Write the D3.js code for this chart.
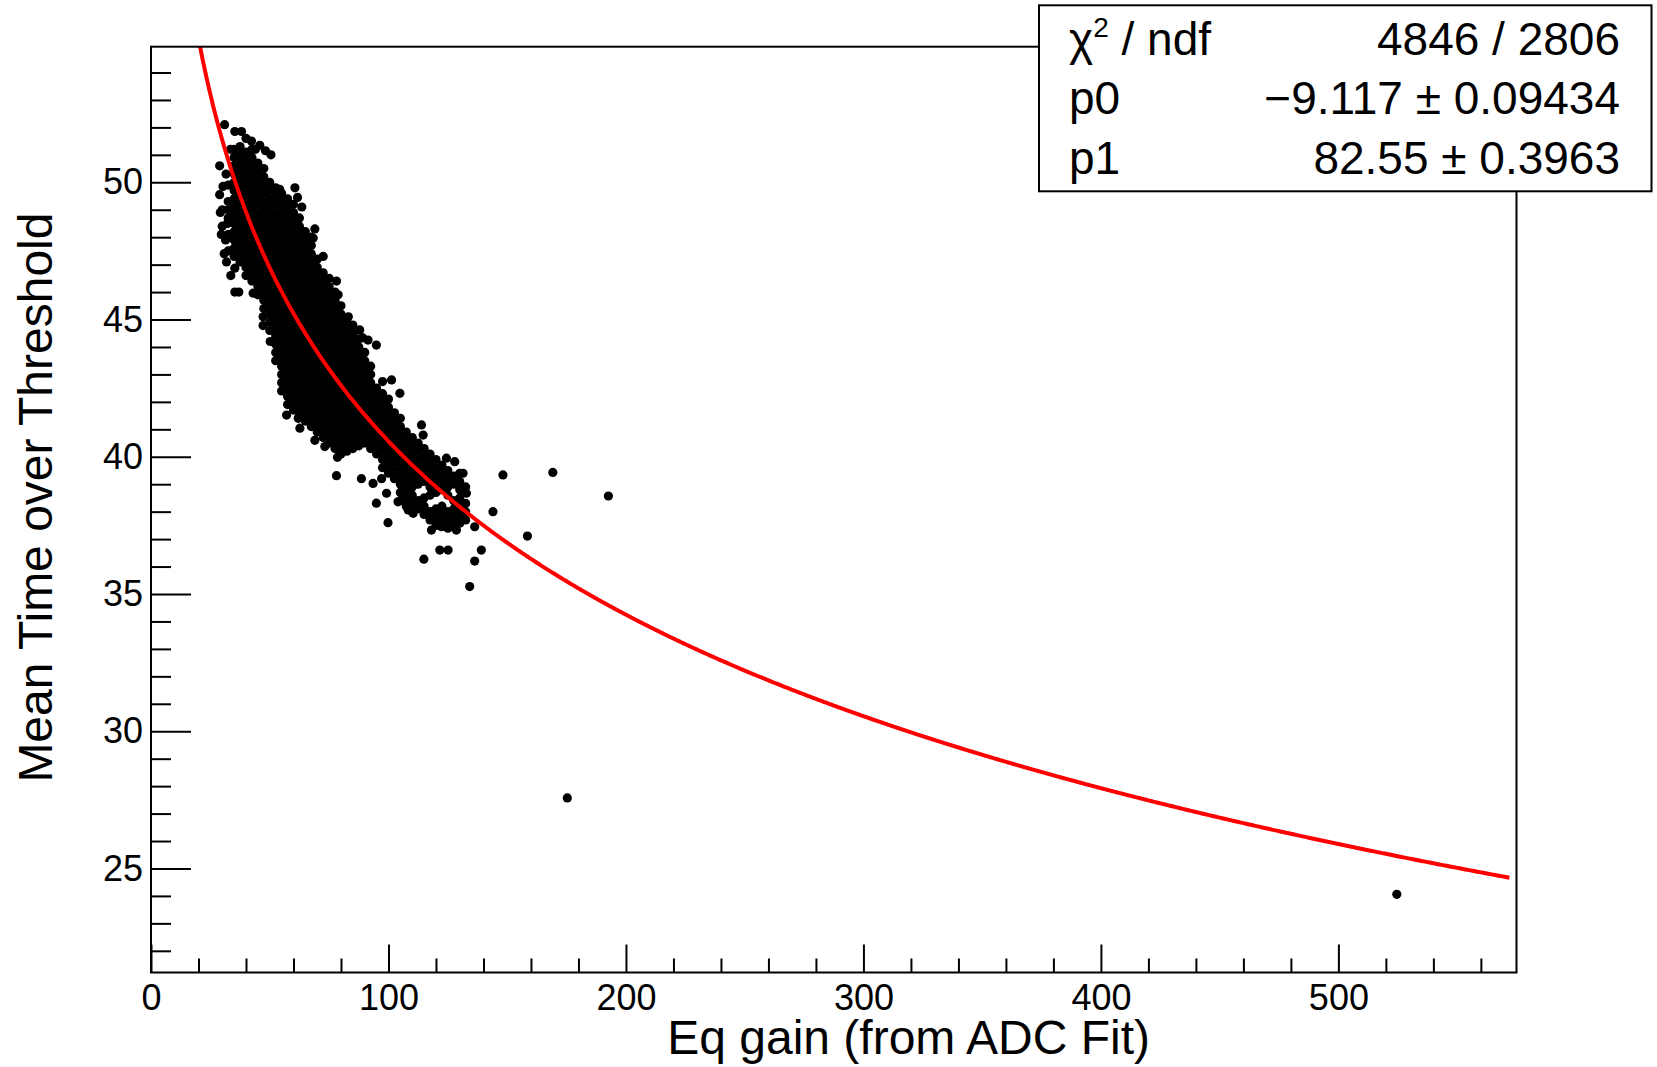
<!DOCTYPE html>
<html>
<head>
<meta charset="utf-8">
<script src="https://cdn.jsdelivr.net/npm/d3@7"></script>
<style>
  body { margin: 0; background: #fff; }
  svg text { font-family: "Liberation Sans", Arial, sans-serif; fill: #000; }
</style>
</head>
<body>
<svg id="chart" width="1657" height="1067"></svg>
<script>
// fit result (f = p0*ln(x) + p1) from the stats box
const fitP0 = -9.117, fitP1 = 82.55;
const fitRange = [20, 572];
const statNames = ["χ2 / ndf", "p0", "p1"];
const statValues = ["4846 / 2806", "\u22129.117 \u00b1 0.09434", "82.55 \u00b1 0.3963"];

// axis ticks
const xTicks = [0, 100, 200, 300, 400, 500];
const xMinor = d3.range(20, 575, 20);
const yTicks = [25, 30, 35, 40, 45, 50];
const yMinor = d3.range(22, 55, 1);

// dense part of the cloud, read column by column: [gain, [ToT values]]
const cloudColumns = [
  [30,   [48.4,49.0]],
  [32.5, [47.5,48.1,48.7,49.0,49.3,49.9]],
  [35,   [47.3,47.6,47.9,48.2,48.5,48.8,49.1,49.4,49.7,50.0,50.3,50.6,50.9,51.2]],
  [37.5, [47.1,47.4,47.7,48.0,48.3,48.6,48.9,49.2,49.5,49.8,50.1,50.4,50.7,51.0,51.3]],
  [40,   [46.6,46.9,47.2,47.5,47.8,48.1,48.4,48.7,49.0,49.3,49.6,49.9,50.2,50.5,50.8,51.1]],
  [42.5, [46.4,46.7,47.0,47.3,47.6,47.9,48.2,48.5,48.8,49.1,49.4,49.7,50.0,50.3,50.6,50.9,51.2]],
  [45,   [45.9,46.2,46.5,46.8,47.1,47.4,47.7,48.0,48.3,48.6,48.9,49.2,49.5,49.8,50.1,50.4,50.7]],
  [47.5, [45.4,45.7,46.0,46.3,46.6,46.9,47.2,47.5,47.8,48.1,48.4,48.7,49.0,49.3,49.6,49.9,50.2,50.5]],
  [50,   [44.6,44.9,45.2,45.5,45.8,46.1,46.4,46.7,47.0,47.3,47.6,47.9,48.2,48.5,48.8,49.1,49.4,49.7,50.0]],
  [52.5, [43.5,43.8,44.1,44.4,44.7,45.0,45.3,45.6,45.9,46.2,46.5,46.8,47.1,47.4,47.7,48.0,48.3,48.6,48.9,49.2,49.5,49.8]],
  [55,   [42.4,42.7,43.0,43.3,43.6,43.9,44.2,44.5,44.8,45.1,45.4,45.7,46.0,46.3,46.6,46.9,47.2,47.5,47.8,48.1,48.4,48.7,49.0,49.3,49.6]],
  [57.5, [41.9,42.2,42.5,42.8,43.1,43.4,43.7,44.0,44.3,44.6,44.9,45.2,45.5,45.8,46.1,46.4,46.7,47.0,47.3,47.6,47.9,48.2,48.5,48.8,49.1,49.4]],
  [60,   [41.7,42.0,42.3,42.6,42.9,43.2,43.5,43.8,44.1,44.4,44.7,45.0,45.3,45.6,45.9,46.2,46.5,46.8,47.1,47.4,47.7,48.0,48.3,48.6,48.9,49.2]],
  [62.5, [41.5,41.8,42.1,42.4,42.7,43.0,43.3,43.6,43.9,44.2,44.5,44.8,45.1,45.4,45.7,46.0,46.3,46.6,46.9,47.2,47.5,47.8,48.1,48.4,48.7]],
  [65,   [41.3,41.6,41.9,42.2,42.5,42.8,43.1,43.4,43.7,44.0,44.3,44.6,44.9,45.2,45.5,45.8,46.1,46.4,46.7,47.0,47.3,47.6,47.9,48.2]],
  [67.5, [41.1,41.4,41.7,42.0,42.3,42.6,42.9,43.2,43.5,43.8,44.1,44.4,44.7,45.0,45.3,45.6,45.9,46.2,46.5,46.8,47.1,47.4,47.7,48.0]],
  [70,   [40.9,41.2,41.5,41.8,42.1,42.4,42.7,43.0,43.3,43.6,43.9,44.2,44.5,44.8,45.1,45.4,45.7,46.0,46.3,46.6,46.9,47.2]],
  [72.5, [40.7,41.0,41.3,41.6,41.9,42.2,42.5,42.8,43.1,43.4,43.7,44.0,44.3,44.6,44.9,45.2,45.5,45.8,46.1,46.4,46.7]],
  [75,   [40.5,40.8,41.1,41.4,41.7,42.0,42.3,42.6,42.9,43.2,43.5,43.8,44.1,44.4,44.7,45.0,45.3,45.6,45.9,46.2,46.5]],
  [77.5, [40.3,40.6,40.9,41.2,41.5,41.8,42.1,42.4,42.7,43.0,43.3,43.6,43.9,44.2,44.5,44.8,45.1,45.4,45.7,46.0]],
  [80,   [40.1,40.4,40.7,41.0,41.3,41.6,41.9,42.2,42.5,42.8,43.1,43.4,43.7,44.0,44.3,44.6,44.9,45.2,45.5]],
  [82.5, [40.2,40.5,40.8,41.1,41.4,41.7,42.0,42.3,42.6,42.9,43.2,43.5,43.8,44.1,44.4,44.7,45.0]],
  [85,   [40.3,40.6,40.9,41.2,41.5,41.8,42.1,42.4,42.7,43.0,43.3,43.6,43.9,44.2,44.5,44.8]],
  [87.5, [40.4,40.7,41.0,41.3,41.6,41.9,42.2,42.5,42.8,43.1,43.4,43.7,44.0,44.3]],
  [90,   [40.5,40.8,41.1,41.4,41.7,42.0,42.3,42.6,42.9,43.2,43.5,43.8]],
  [92.5, [40.3,40.6,40.9,41.2,41.5,41.8,42.1,42.4,42.7,43.0,43.3]],
  [95,   [40.1,40.4,40.7,41.0,41.3,41.6,41.9,42.2,42.5]],
  [97.5, [39.6,39.9,40.2,40.5,40.8,41.1,41.4,41.7,42.0,42.3]],
  [100,  [39.4,39.7,40.0,40.3,40.6,40.9,41.2,41.5,41.8,42.1]],
  [102.5,[39.2,39.5,39.8,40.1,40.4,40.7,41.0,41.3,41.6]],
  [105,  [38.4,38.7,39.0,39.3,39.6,39.9,40.2,40.5,40.8,41.1,41.4]],
  [107.5,[38.2,38.5,38.8,39.1,39.4,39.7,40.0,40.3,40.6,40.9]],
  [110,  [38.0,38.3,38.6,38.9,39.2,39.5,39.8,40.1,40.4,40.7]],
  [112.5,[38.1,38.4,39.0,39.3,39.6,39.9,40.2,40.5]],
  [115,  [37.9,38.2,38.5,39.1,39.4,39.7,40.0,40.3]],
  [117.5,[37.7,38.0,38.6,38.9,39.2,39.5,39.8,40.1]],
  [120,  [37.5,37.8,38.1,38.7,39.0,39.3,39.6,39.9]],
  [122.5,[37.6,37.9,38.2,38.8,39.1,39.4,39.7]],
  [125,  [37.4,37.7,38.0,38.6,38.9,39.2,39.5]],
  [127.5,[37.5,37.8,38.1,38.4,39.0,39.3]],
  [130,  [37.6,37.9,38.2,38.5,38.8,39.1,39.4]],
  [132.5,[37.7,38.0,38.3,38.9]]
];

// loose points around the edge of the cloud and the outliers: [gain, ToT]
const strayPoints = [
  [31.0,52.1],[35.3,51.85],[38.1,51.85],[40.0,51.6],[42.3,51.5],[45.8,51.35],[44.0,51.2],[48.2,51.15],
  [50.5,51.0],[33.5,51.2],[28.9,50.6],[30.3,49.85],[28.9,49.55],[29.2,48.9],[29.6,48.1],[31.4,47.9],
  [30.8,47.4],[31.8,47.1],[33.6,46.6],[35.3,46.87],[35.3,46.0],[37.0,46.0],[43.0,45.96],[47.2,45.1],
  [47.2,44.78],[50.2,44.2],[31.6,50.3],[32.2,48.5],
  [54.2,49.74],[60.6,49.8],[61.7,49.45],[63.5,49.1],[69.0,48.3],[68.3,47.97],[72.5,47.3],[78.1,46.4],
  [78.8,45.9],[83.1,45.1],[87.9,44.62],[89.2,44.33],[91.4,44.25],[94.9,44.07],[97.5,42.74],[101.3,42.8],
  [104.8,42.31],[113.9,41.16],[114.6,40.79],[124.4,39.95],[127.9,39.82],[131.4,39.4],[132.8,38.67],
  [131.4,38.3],[130.0,37.58],[128.6,37.33],
  [57.1,41.52],[62.0,41.4],[62.7,41.04],[69.0,40.6],[73.2,40.37],[78.1,39.31],[78.5,39.98],[88.6,39.2],
  [93.5,39.03],[97.1,39.2],[94.9,38.31],[99.2,38.67],[104.0,38.36],[108.3,38.06],[110.4,37.94],[117.4,37.82],
  [99.8,37.6],[118.1,37.33],[122.3,37.45],[126.6,37.45],[136.3,37.45],[121.6,36.6],[125.1,36.6],
  [114.9,36.27],[139.1,36.6],[136.3,36.2],[134.2,35.27],
  [144.0,38.0],[148.2,39.34],[158.5,37.11],[169.2,39.43],[192.6,38.57],[175.3,27.57],[524.6,24.06]
];

const svg = d3.select("#chart");
const frame = { left: 151, right: 1516.5, top: 46.7, bottom: 972.5 };

const x = d3.scaleLinear().domain([0, 575]).range([frame.left, frame.right]);
const y = d3.scaleLinear().domain([21.21, 54.94]).range([frame.bottom, frame.top]);

svg.append("defs").append("clipPath").attr("id", "plot-clip")
  .append("rect").attr("x", frame.left).attr("y", frame.top)
  .attr("width", frame.right - frame.left).attr("height", frame.bottom - frame.top);

// points
const points = cloudColumns.flatMap(([gx, ys]) => ys.map(v => [gx, v])).concat(strayPoints);
svg.append("g").attr("clip-path", "url(#plot-clip)")
  .selectAll("circle").data(points).enter().append("circle")
  .attr("cx", d => x(d[0])).attr("cy", d => y(d[1])).attr("r", 4.6).attr("fill", "#000");

// fit curve
const fitLine = d3.line().x(d => x(d)).y(d => y(fitP0 * Math.log(d) + fitP1));
svg.append("path").attr("clip-path", "url(#plot-clip)")
  .datum(d3.range(fitRange[0], fitRange[1] + 0.5, 0.5))
  .attr("d", fitLine).attr("fill", "none").attr("stroke", "#ff0000").attr("stroke-width", 4);

// axes, ticks pointing inside the frame
const xAxis = svg.append("g").attr("transform", "translate(0," + frame.bottom + ")")
  .call(d3.axisBottom(x).tickValues(xTicks).tickSize(-28).tickPadding(12).tickFormat(d3.format("d")));
const xAxisMinor = svg.append("g").attr("transform", "translate(0," + frame.bottom + ")")
  .call(d3.axisBottom(x).tickValues(xMinor.filter(v => v % 100 !== 0)).tickSize(-14).tickFormat(""));
const yAxis = svg.append("g").attr("transform", "translate(" + frame.left + ",0)")
  .call(d3.axisLeft(y).tickValues(yTicks).tickSize(-40).tickPadding(8));
const yAxisMinor = svg.append("g").attr("transform", "translate(" + frame.left + ",0)")
  .call(d3.axisLeft(y).tickValues(yMinor.filter(v => v % 5 !== 0)).tickSize(-20).tickFormat(""));

[xAxis, xAxisMinor, yAxis, yAxisMinor].forEach(a => {
  a.select(".domain").remove();
  a.selectAll("line").attr("stroke", "#000").attr("stroke-width", 2);
  a.selectAll("text").attr("font-size", 36).attr("font-family", "Liberation Sans, Arial, sans-serif").attr("fill", "#000");
});

// frame
svg.append("rect").attr("x", frame.left).attr("y", frame.top)
  .attr("width", frame.right - frame.left).attr("height", frame.bottom - frame.top)
  .attr("fill", "none").attr("stroke", "#000").attr("stroke-width", 2);

// axis titles
svg.append("text").attr("x", 1150).attr("y", 1054).attr("text-anchor", "end")
  .attr("font-size", 48).text("Eq gain (from ADC Fit)");
svg.append("text").attr("transform", "translate(52,497.6) rotate(-90)").attr("text-anchor", "middle")
  .attr("font-size", 48).text("Mean Time over Threshold");

// stats box
const box = { x: 1039, y: 5.3, w: 612.5, h: 186 };
svg.append("rect").attr("x", box.x).attr("y", box.y).attr("width", box.w).attr("height", box.h)
  .attr("fill", "#fff").attr("stroke", "#000").attr("stroke-width", 2);
const rowY = [55, 114, 174];
statNames.forEach((name, i) => {
  const t = svg.append("text").attr("x", 1069).attr("y", rowY[i]).attr("font-size", 46);
  if (name.startsWith("χ2")) {
    t.append("tspan").text("χ");
    t.append("tspan").attr("font-size", 28).attr("dy", -18).text("2");
    t.append("tspan").attr("dy", 18).text(" / ndf");
  } else {
    t.text(name);
  }
  svg.append("text").attr("x", 1620).attr("y", rowY[i]).attr("font-size", 46)
    .attr("text-anchor", "end").text(statValues[i]);
});
</script>
</body>
</html>
